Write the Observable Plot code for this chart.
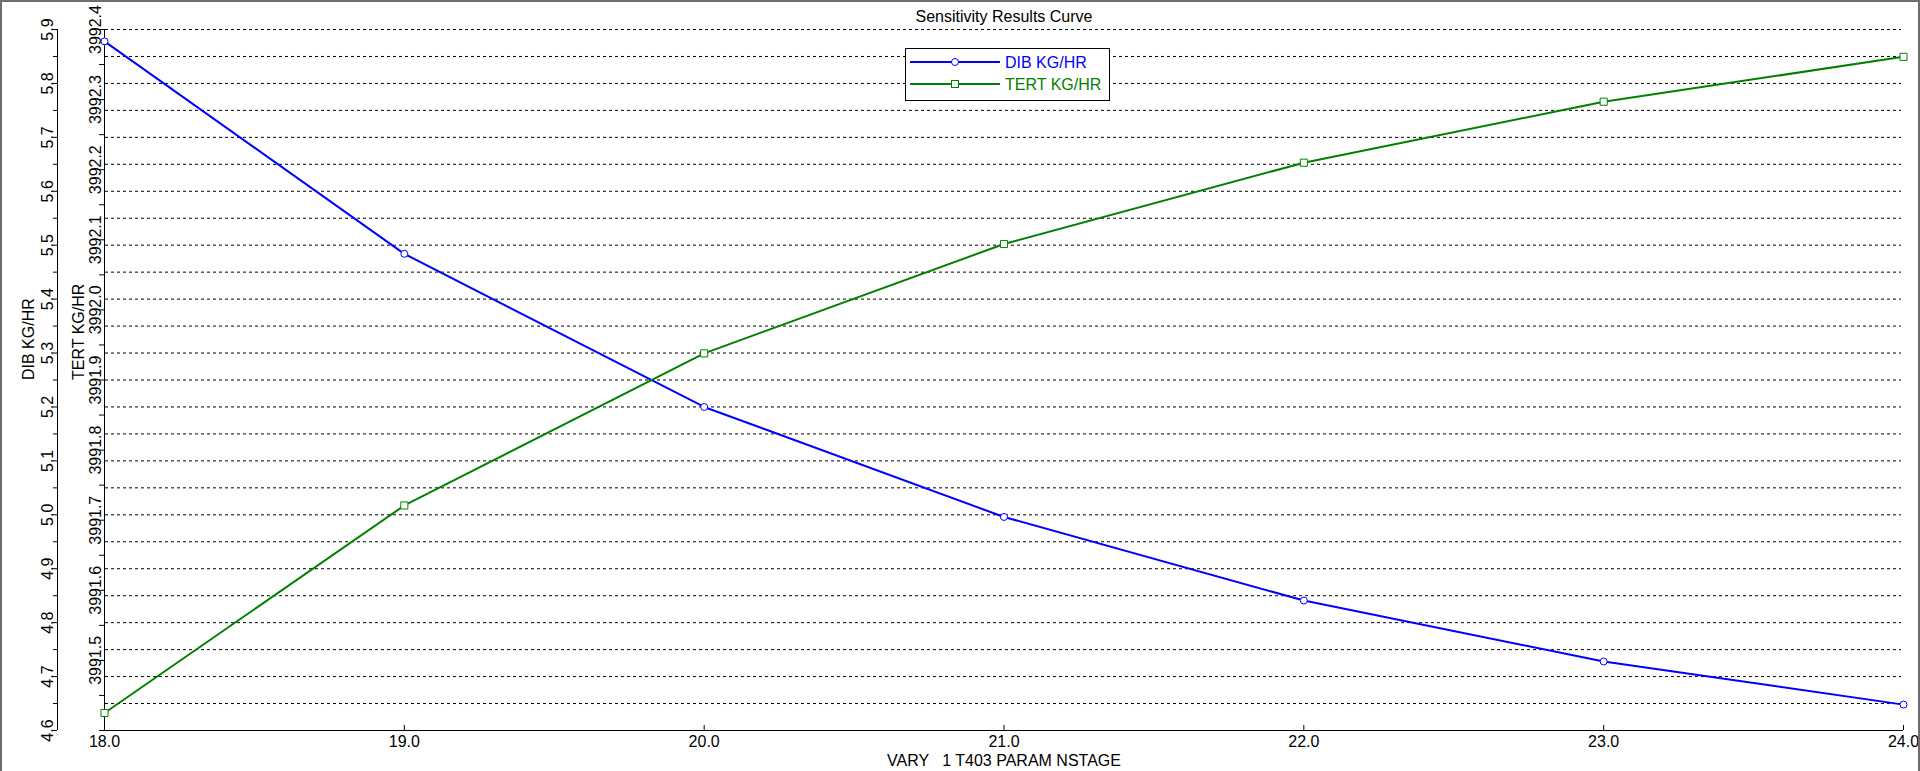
<!DOCTYPE html>
<html><head><meta charset="utf-8">
<script src="https://cdn.jsdelivr.net/npm/d3@7"></script>
<script src="https://cdn.jsdelivr.net/npm/@observablehq/plot@0.6"></script>
<style>
html,body{margin:0;padding:0;background:#fff;}
#wrap{position:relative;width:1920px;height:771px;overflow:hidden;background:#fff;}
#wrap svg text{white-space:pre;}
#border{position:absolute;left:0;top:0;width:1920px;height:771px;box-sizing:border-box;border:2px solid #6d6d6d;border-bottom:none;pointer-events:none;}
#legend{position:absolute;left:905px;top:48px;}
</style></head>
<body><div id="wrap"></div>
<script>
// ---- data ----
const xValues = [18, 19, 20, 21, 22, 23, 24];
const dibValues = [5.878, 5.484, 5.200, 4.996, 4.841, 4.728, 4.648];
const tertValues = [3991.425, 3991.721, 3991.938, 3992.094, 3992.210, 3992.297, 3992.361];

const xTickValues = [18, 19, 20, 21, 22, 23, 24];
const xTickLabels = ["18.0", "19.0", "20.0", "21.0", "22.0", "23.0", "24.0"];
const dibTickValues = [4.60, 4.65, 4.70, 4.75, 4.80, 4.85, 4.90, 4.95, 5.00, 5.05, 5.10, 5.15, 5.20, 5.25, 5.30,
  5.35, 5.40, 5.45, 5.50, 5.55, 5.60, 5.65, 5.70, 5.75, 5.80, 5.85, 5.90];
const dibTickLabels = ["4.6", "4.7", "4.8", "4.9", "5.0", "5.1", "5.2", "5.3", "5.4", "5.5", "5.6", "5.7", "5.8", "5.9"];
const tertTickValues = [3991.40, 3991.45, 3991.50, 3991.55, 3991.60, 3991.65, 3991.70, 3991.75, 3991.80, 3991.85,
  3991.90, 3991.95, 3992.00, 3992.05, 3992.10, 3992.15, 3992.20, 3992.25, 3992.30, 3992.35, 3992.40];
const tertTickLabels = ["3991.5", "3991.6", "3991.7", "3991.8", "3991.9", "3992.0", "3992.1", "3992.2", "3992.3", "3992.4"];

const dibDomain = [4.6, 5.9];
const tertDomain = [3991.4, 3992.4];
const seriesNames = ["DIB KG/HR", "TERT KG/HR"];
const seriesColors = ["#0000ff", "#008000"];
const title = "Sensitivity Results Curve";
const xTitle = "VARY   1 T403 PARAM NSTAGE";

// ---- build ----
const toDib = d3.scaleLinear().domain(tertDomain).range(dibDomain);
const dibRows = xValues.map((x, i) => ({x, y: dibValues[i]}));
const tertRows = xValues.map((x, i) => ({x, y: toDib(tertValues[i])}));
const dibLabelMap = new Map(dibTickLabels.map(s => [+s, s]));
const tertLabelMap = new Map(tertTickLabels.map(s => [+s, s]));
const xLabelMap = new Map(xTickValues.map((v, i) => [v, xTickLabels[i]]));

const chart = Plot.plot({
  width: 1920, height: 771,
  marginLeft: 104, marginRight: 17, marginTop: 29, marginBottom: 41,
  style: {fontFamily: "'Liberation Sans', Arial, sans-serif", fontSize: "16px", background: "#fff", color: "#000", overflow: "visible"},
  x: {domain: [18, 24], label: null},
  y: {domain: dibDomain, label: null},
  marks: [
    Plot.ruleY(dibTickValues.filter(v => v > dibDomain[0]), {stroke: "#000", strokeDasharray: "3,3", insetLeft: 1, insetRight: 2}),
    // axis lines
    Plot.ruleY([dibDomain[0]], {stroke: "#000"}),
    Plot.ruleX([18], {stroke: "#000"}),
    Plot.ruleX([18], {stroke: "#000", dx: -47}),
    // x axis
    Plot.ruleX(xTickValues, {stroke: "#000", insetTop: 696}),
    Plot.axisX({ticks: xTickValues, tickFormat: d => xLabelMap.get(d), tickSize: 0, tickPadding: 5, label: null}),
    // DIB axis
    Plot.axisY({anchor: "left", ticks: dibTickValues, tickSize: 4, tickPadding: 1, tickRotate: -90, dx: -47, label: null,
      tickFormat: d => dibLabelMap.get(+d.toFixed(2)) ?? ""}),
    // TERT axis
    Plot.axisY({anchor: "left", ticks: tertTickValues.map(toDib), tickSize: 5, tickPadding: -1, tickRotate: -90, label: null,
      tickFormat: d => tertLabelMap.get(+toDib.invert(d).toFixed(2)) ?? ""}),
    // axis titles and title
    Plot.text([seriesNames[0]], {frameAnchor: "left", lineAnchor: "middle", rotate: -90, dx: -76, text: d => d}),
    Plot.text([seriesNames[1]], {frameAnchor: "left", lineAnchor: "middle", rotate: -90, dx: -26, text: d => d}),
    Plot.text([title], {frameAnchor: "top", lineAnchor: "middle", dy: -13, text: d => d}),
    Plot.text([xTitle], {frameAnchor: "bottom", lineAnchor: "middle", dy: 30, text: d => d}),
    // series
    Plot.line(dibRows, {x: "x", y: "y", stroke: seriesColors[0], strokeWidth: 2}),
    Plot.line(tertRows, {x: "x", y: "y", stroke: seriesColors[1], strokeWidth: 2}),
    Plot.dot(dibRows, {x: "x", y: "y", r: 3.5, symbol: "circle", fill: "#fff", stroke: seriesColors[0], strokeWidth: 1}),
    Plot.dot(tertRows, {x: "x", y: "y", r: 4, symbol: "square", fill: "#fff", stroke: seriesColors[1], strokeWidth: 1})
  ]
});

const wrap = document.getElementById("wrap");
wrap.appendChild(chart);

// legend overlay
const ns = "http://www.w3.org/2000/svg";
const leg = document.createElementNS(ns, "svg");
leg.setAttribute("id", "legend");
leg.setAttribute("width", 205);
leg.setAttribute("height", 53);
let html = `<rect x="0.5" y="0.5" width="204" height="52" fill="#fff" stroke="#000"/>`;
seriesNames.forEach((name, i) => {
  const cy = 14 + i * 22;
  html += `<line x1="5" x2="95" y1="${cy}" y2="${cy}" stroke="${seriesColors[i]}" stroke-width="2"/>`;
  if (i === 0) html += `<circle cx="50" cy="${cy}" r="3.5" fill="#fff" stroke="${seriesColors[i]}"/>`;
  else html += `<rect x="46.5" y="${cy - 3.5}" width="7" height="7" fill="#fff" stroke="${seriesColors[i]}"/>`;
  html += `<text x="100" y="${cy + 6}" fill="${seriesColors[i]}" font-family="'Liberation Sans', Arial, sans-serif" font-size="16">${name}</text>`;
});
leg.innerHTML = html;
wrap.appendChild(leg);

const border = document.createElement("div");
border.id = "border";
wrap.appendChild(border);
</script>
</body></html>
